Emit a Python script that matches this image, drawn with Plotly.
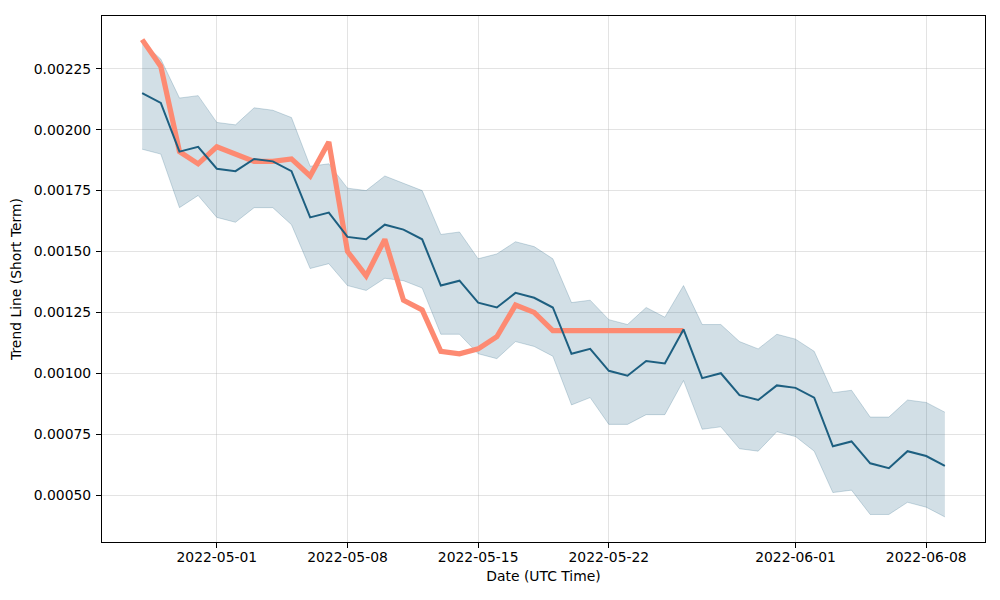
import pandas as pd
import plotly.graph_objects as go

dates = pd.date_range("2022-04-27", "2022-06-09", freq="D")

trend = [0.00215, 0.00211, 0.00191, 0.00193, 0.00184, 0.00183, 0.00188, 0.00187, 0.00183, 0.00164,
         0.00166, 0.00156, 0.00155, 0.00161, 0.00159, 0.00155, 0.00136, 0.00138, 0.00129, 0.00127,
         0.00133, 0.00131, 0.00127, 0.00108, 0.00110, 0.00101, 0.00099, 0.00105, 0.00104, 0.00118,
         0.00098, 0.00100, 0.00091, 0.00089, 0.00095, 0.00094, 0.00090, 0.00070, 0.00072, 0.00063,
         0.00061, 0.00068, 0.00066, 0.00062]

upper = [0.00236, 0.00229, 0.00213, 0.00214, 0.00203, 0.00202, 0.00209, 0.00208, 0.00205, 0.00185,
         0.00186, 0.00176, 0.00175, 0.00181, 0.00178, 0.00175, 0.00157, 0.00158, 0.00147, 0.00149,
         0.00154, 0.00152, 0.00147, 0.00129, 0.00130, 0.00122, 0.00120, 0.00127, 0.00123, 0.00136,
         0.00120, 0.00120, 0.00113, 0.00110, 0.00116, 0.00114, 0.00109, 0.00092, 0.00093, 0.00082,
         0.00082, 0.00089, 0.00088, 0.00084]

lower = [0.00192, 0.00190, 0.00168, 0.00173, 0.00164, 0.00162, 0.00168, 0.00168, 0.00161, 0.00143,
         0.00145, 0.00136, 0.00134, 0.00139, 0.00138, 0.00135, 0.00116, 0.00116, 0.00108, 0.00106,
         0.00113, 0.00111, 0.00107, 0.00087, 0.00090, 0.00079, 0.00079, 0.00083, 0.00083, 0.00097,
         0.00077, 0.00078, 0.00069, 0.00068, 0.00076, 0.00074, 0.00068, 0.00051, 0.00052, 0.00042,
         0.00042, 0.00047, 0.00045, 0.00041]

price = [0.00237, 0.00226, 0.00191, 0.00186, 0.00193, 0.00190, 0.00187, 0.00187, 0.00188, 0.00181,
         0.00195, 0.00150, 0.00140, 0.00155, 0.00130, 0.00126, 0.00109, 0.00108, 0.00110, 0.00115,
         0.00128, 0.00125, 0.001175, 0.001175, 0.001175, 0.001175, 0.001175, 0.001175, 0.001175, 0.001175]

x_ticks = ["2022-05-01", "2022-05-08", "2022-05-15", "2022-05-22", "2022-06-01", "2022-06-08"]
y_ticks = [0.00050, 0.00075, 0.00100, 0.00125, 0.00150, 0.00175, 0.00200, 0.00225]

band_line = "rgba(31,95,128,0.22)"
band_fill = "rgba(31,95,128,0.2)"

fig = go.Figure()
fig.add_trace(go.Scatter(x=dates, y=upper, mode="lines", line=dict(color=band_line, width=1),
                         showlegend=False, hoverinfo="skip"))
fig.add_trace(go.Scatter(x=dates, y=lower, mode="lines", line=dict(color=band_line, width=1),
                         fill="tonexty", fillcolor=band_fill, showlegend=False, hoverinfo="skip"))
fig.add_trace(go.Scatter(x=dates[:len(price)], y=price, mode="lines",
                         line=dict(color="#fd8a72", width=5.2), showlegend=False))
fig.add_trace(go.Scatter(x=dates, y=trend, mode="lines",
                         line=dict(color="#1d5f80", width=2), showlegend=False))

axis_common = dict(
    showline=True, linecolor="black", linewidth=1, mirror=True,
    ticks="outside", ticklen=5, tickwidth=1, tickcolor="black",
    showgrid=True, gridcolor="rgba(176,176,176,0.35)", gridwidth=1,
    zeroline=False, automargin=False,
    tickfont=dict(family="DejaVu Sans", size=13.9, color="black"),
    title_font=dict(family="DejaVu Sans", size=13.9, color="black"),
)

fig.update_layout(
    width=1000, height=600,
    margin=dict(l=94, r=23, t=8, b=66, autoexpand=False),
    plot_bgcolor="white", paper_bgcolor="white",
    font=dict(family="DejaVu Sans", size=13.9, color="black"),
    xaxis=dict(axis_common, type="date",
               range=["2022-04-24 20:24", "2022-06-11 03:36"],
               tickvals=x_ticks, ticktext=x_ticks, ticklabelstandoff=-3,
               title=dict(text="Date (UTC Time)", standoff=7)),
    yaxis=dict(axis_common, range=[0.000307, 0.002467],
               tickvals=y_ticks, tickformat=".5f", ticklabelstandoff=2,
               title=dict(text="Trend Line (Short Term)", standoff=14)),
)

fig.write_html("out.html")
